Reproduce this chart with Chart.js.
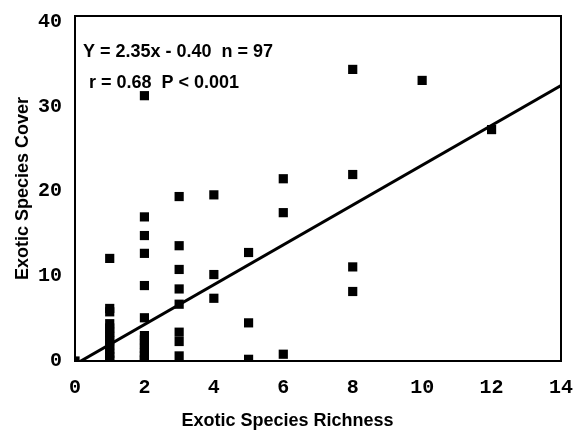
<!DOCTYPE html>
<html>
<head>
<meta charset="utf-8">
<script src="https://cdn.jsdelivr.net/npm/chart.js@4/dist/chart.umd.min.js"></script>
<style>
  body { margin: 0; background: #fff; }
  #wrap { width: 575px; height: 432px; }
</style>
</head>
<body>
<div id="wrap"><canvas id="chart" width="575" height="432"></canvas></div>
<script>
// Exotic species richness (x) vs. exotic species cover (y)
const richness = [
  0,
  1, 1, 1, 1, 1, 1, 1, 1, 1, 1, 1, 1, 1,
  2, 2, 2, 2, 2, 2, 2, 2, 2, 2, 2, 2, 2, 2,
  3, 3, 3, 3, 3, 3, 3, 3,
  4, 4, 4,
  5, 5, 5,
  6, 6, 6,
  8, 8, 8, 8,
  10,
  12
];
const cover = [
  0,
  12.1, 6.2, 5.8, 4.4, 3.9, 3.4, 2.9, 2.4, 1.9, 1.4, 0.9, 0.5, 0.1,
  31.3, 17.0, 14.8, 12.7, 8.9, 5.1, 3.0, 2.5, 2.0, 1.5, 1.0, 0.6, 0.2, 0,
  19.4, 13.6, 10.8, 8.5, 6.7, 3.4, 2.3, 0.6,
  19.6, 10.2, 7.4,
  12.8, 4.5, 0.2,
  21.5, 17.5, 0.8,
  34.4, 22.0, 11.1, 8.2,
  33.1,
  27.3
];

// regression: Y = 2.35x - 0.40
const slope = 2.35;
const intercept = -0.40;
const fitRange = [0, 14];

const xTicks = [0, 2, 4, 6, 8, 10, 12, 14];
const yTicks = [0, 10, 20, 30, 40];

const statLines = ['Y = 2.35x - 0.40  n = 97', 'r = 0.68  P < 0.001'];
const xTitle = 'Exotic Species Richness';
const yTitle = 'Exotic Species Cover';

const points = richness.map((x, i) => ({ x: x, y: cover[i] }));
const fitLine = fitRange.map(x => ({ x: x, y: slope * x + intercept }));

// frame, stats text and x title
const decorPlugin = {
  id: 'decor',
  afterDraw(chart) {
    const ctx = chart.ctx;
    const a = chart.chartArea;
    ctx.save();
    ctx.strokeStyle = '#000';
    ctx.lineWidth = 2;
    ctx.strokeRect(a.left, a.top, a.right - a.left, a.bottom - a.top);

    ctx.fillStyle = '#000';
    ctx.font = 'bold 18px "Liberation Sans", Arial, sans-serif';
    ctx.textBaseline = 'middle';
    ctx.textAlign = 'left';
    ctx.fillText(statLines[0], a.left + 8, a.top + 36);
    ctx.fillText(statLines[1], a.left + 14, a.top + 67);

    ctx.textAlign = 'center';
    ctx.fillText(xTitle, chart.width / 2, 421);
    ctx.restore();
  }
};

new Chart(document.getElementById('chart'), {
  type: 'scatter',
  data: {
    datasets: [
      {
        label: 'Sites',
        data: points,
        pointStyle: 'rect',
        pointRadius: 6.5,
        pointHoverRadius: 6.5,
        backgroundColor: '#000',
        borderWidth: 0
      },
      {
        type: 'line',
        label: 'Fit',
        data: fitLine,
        borderColor: '#000',
        borderWidth: 3,
        pointRadius: 0,
        fill: false
      }
    ]
  },
  options: {
    responsive: false,
    animation: false,
    layout: { padding: { top: 16, right: 14, left: 0, bottom: 0 } },
    plugins: {
      legend: { display: false },
      tooltip: { enabled: false }
    },
    scales: {
      x: {
        type: 'linear',
        min: 0,
        max: 14,
        afterBuildTicks: scale => { scale.ticks = xTicks.map(v => ({ value: v })); },
        afterFit: scale => {
          scale.height = 71;
          scale.paddingLeft = 0;
          scale.paddingRight = 0;
        },
        grid: { display: false, drawTicks: false },
        border: { display: false },
        ticks: {
          padding: 15,
          color: '#000',
          font: { family: '"Liberation Mono", "Courier New", monospace', size: 20, weight: 'bold' }
        }
      },
      y: {
        min: 0,
        max: 40.7,
        afterBuildTicks: scale => { scale.ticks = yTicks.map(v => ({ value: v })); },
        afterFit: scale => {
          scale.width = 75;
          scale.paddingTop = 0;
          scale.paddingBottom = 0;
        },
        grid: { display: false, drawTicks: false },
        border: { display: false },
        ticks: {
          padding: 13,
          color: '#000',
          font: { family: '"Liberation Mono", "Courier New", monospace', size: 20, weight: 'bold' }
        },
        title: {
          display: true,
          text: yTitle,
          color: '#000',
          padding: { top: 12, bottom: 0 },
          font: { family: '"Liberation Sans", Arial, sans-serif', size: 18, weight: 'bold' }
        }
      }
    }
  },
  plugins: [decorPlugin]
});
</script>
</body>
</html>
